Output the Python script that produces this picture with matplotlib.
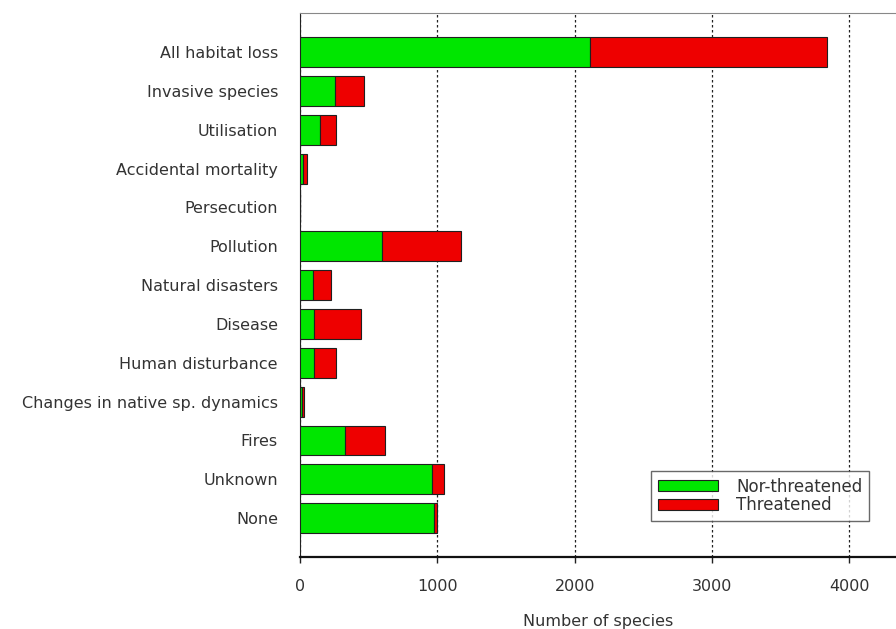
import numpy as np
import matplotlib
matplotlib.use("Agg")
import matplotlib.pyplot as plt

plt.rcParams['font.family'] = ['DejaVu Sans']

# data (number of species)
threats = ['All habitat loss', 'Invasive species', 'Utilisation', 'Accidental mortality',
           'Persecution', 'Pollution', 'Natural disasters', 'Disease', 'Human disturbance',
           'Changes in native sp. dynamics', 'Fires', 'Unknown', 'None']
non_threatened = [2110, 255, 146, 20, 0, 597, 95, 102, 102, 10, 328, 961, 976]
threatened = [1730, 211, 116, 30, 0, 576, 131, 342, 160, 15, 291, 88, 22]

green = '#00e600'
red = '#ee0000'
txt = '#333333'
fs = 11.5

fig = plt.figure(figsize=(8.96, 6.29), dpi=100)
ax = fig.add_axes([0.335, 0.1145, 0.665, 0.8645])

y = np.arange(len(threats))
ax.barh(y, non_threatened, height=0.77, color=green, edgecolor='#202020', linewidth=0.8,
        label='Nor-threatened', zorder=3)
ax.barh(y, threatened, left=non_threatened, height=0.77, color=red, edgecolor='#202020',
        linewidth=0.8, label='Threatened', zorder=3)

ax.set_ylim(len(threats), -1)
ax.set_xlim(0, 4340)
ax.set_yticks(y)
ax.set_yticklabels(threats, fontsize=fs, color=txt)
ax.tick_params(axis='y', length=0, pad=16)
ax.set_xticks([0, 1000, 2000, 3000, 4000])
ax.tick_params(axis='x', length=4, width=1, colors='#222222', labelsize=fs, labelcolor=txt, pad=12)
ax.set_xlabel('Number of species', fontsize=fs, color=txt, labelpad=14)

ax.grid(axis='x', linestyle=(0, (2, 2)), color='#222222', linewidth=0.9, zorder=1)
ax.spines['right'].set_visible(False)
ax.spines['top'].set_color('#888888')
ax.spines['left'].set_color('#222222')
ax.spines['bottom'].set_linewidth(1.6)
ax.spines['bottom'].set_color('#111111')

leg = ax.legend(loc='lower right', bbox_to_anchor=(0.955, 0.066), fontsize=12, frameon=True,
                fancybox=False, edgecolor='#444444', handlelength=3.6, handleheight=0.6,
                labelspacing=0.05, borderpad=0.4, borderaxespad=0, handletextpad=1.1)
leg.get_frame().set_linewidth(1.0)
for t in leg.get_texts():
    t.set_color(txt)

fig.savefig('out.png', dpi=100)
